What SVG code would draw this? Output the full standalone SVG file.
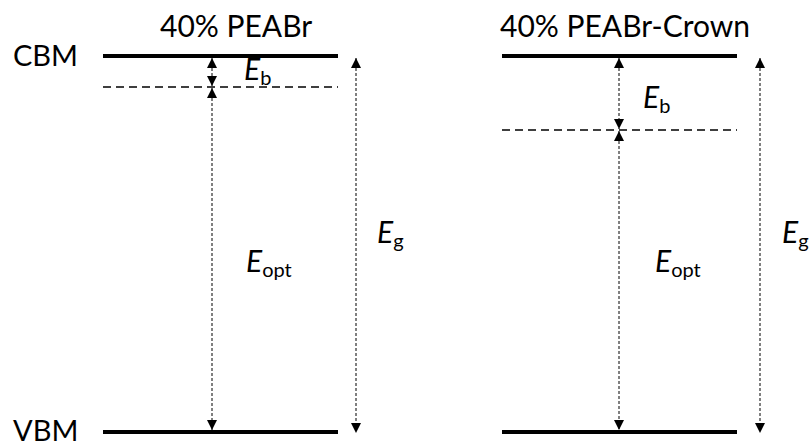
<svg xmlns="http://www.w3.org/2000/svg" width="811" height="445" viewBox="0 0 811 445">
<defs>
<marker id="ah" viewBox="0 0 10 10" refX="10" refY="5" markerWidth="10" markerHeight="10" markerUnits="userSpaceOnUse" orient="auto-start-reverse">
<path d="M0,0 L10,5 L0,10 Z" fill="#000"/>
</marker>
<style>
text{font-family:Lato,"Liberation Sans",sans-serif;fill:#000}
.t{font-size:30px}
.c{font-size:29px}
.e{font-size:30px;font-style:italic}
.s{font-size:20px;font-style:normal}
.lvl{stroke:#000;stroke-width:4;fill:none}
.dl{stroke:#000;stroke-width:1.5;stroke-dasharray:8,5;fill:none}
.ar{stroke:#000;stroke-width:1;stroke-dasharray:3,2;fill:none;marker-start:url(#ah);marker-end:url(#ah)}
</style>
</defs>
<g id="labels">
<text class="c" x="13" y="66">CBM</text>
<text class="c" x="13" y="441">VBM</text>
<text class="t" x="160" y="37">40% PEABr</text>
<text class="t" x="500" y="37">40% PEABr-Crown</text>
</g>
<g id="left-cbm"><line class="lvl" x1="103" y1="56" x2="338" y2="56"/></g>
<g id="left-exciton"><line class="dl" x1="103" y1="87" x2="338" y2="87"/></g>
<g id="left-vbm"><line class="lvl" x1="103" y1="432" x2="338" y2="432"/></g>
<g id="right-cbm"><line class="lvl" x1="502" y1="56" x2="737" y2="56"/></g>
<g id="right-exciton"><line class="dl" x1="502" y1="130" x2="737" y2="130"/></g>
<g id="right-vbm"><line class="lvl" x1="502" y1="432" x2="737" y2="432"/></g>
<g id="connectors">
<line class="ar" x1="212" y1="58" x2="212" y2="86"/>
<line class="ar" x1="212" y1="88" x2="212" y2="430"/>
<line class="ar" x1="356" y1="58" x2="356" y2="433"/>
<line class="ar" x1="619" y1="58" x2="619" y2="129"/>
<line class="ar" x1="619" y1="131" x2="619" y2="430"/>
<line class="ar" x1="760" y1="58" x2="760" y2="433"/>
</g>
<g id="energies">
<text class="e" x="244" y="80">E<tspan class="s" dy="5">b</tspan></text>
<text class="e" x="246" y="272">E<tspan class="s" dy="5">opt</tspan></text>
<text class="e" x="377" y="243">E<tspan class="s" dy="5">g</tspan></text>
<text class="e" x="643" y="108">E<tspan class="s" dy="5">b</tspan></text>
<text class="e" x="655" y="272">E<tspan class="s" dy="5">opt</tspan></text>
<text class="e" x="782" y="243">E<tspan class="s" dy="5">g</tspan></text>
</g>
</svg>
